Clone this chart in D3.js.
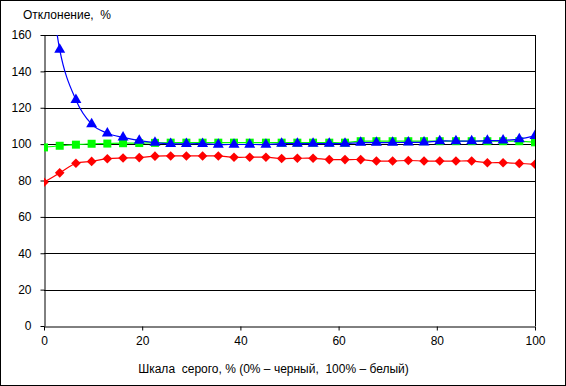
<!DOCTYPE html>
<html>
<head>
<meta charset="utf-8">
<script src="https://cdn.jsdelivr.net/npm/d3@7"></script>
<style>
  html, body { margin: 0; padding: 0; background: #fff; }
  svg { display: block; font-family: "Liberation Sans", Arial, sans-serif; }
  text { white-space: pre; fill: #000; }
</style>
</head>
<body>
<svg id="chart" width="566" height="386"></svg>
<script>
/*
 * Grey-scale deviation chart — three smoothed series with markers,
 * x = grey level (0% black .. 100% white), y = deviation in %.
 */

// grey levels (32 steps)
const GREY = [0, 3.2, 6.5, 9.7, 12.9, 16.1, 19.4, 22.6, 25.8, 29.0, 32.3, 35.5,
  38.7, 41.9, 45.2, 48.4, 51.6, 54.8, 58.1, 61.3, 64.5, 67.7, 71.0, 74.2,
  77.4, 80.6, 83.9, 87.1, 90.3, 93.5, 96.8, 100];

const RED = [79, 84.2, 89.5, 90.5, 92, 92.4, 92.6, 93.4, 93.5, 93.5, 93.5, 93.5,
  92.8, 92.8, 92.8, 92.1, 92.2, 92.2, 91.5, 91.5, 91.5, 90.7, 90.7, 91.0,
  90.7, 90.7, 90.7, 90.7, 89.8, 89.8, 89.4, 88.9];

const GREEN = [98.2, 99.1, 99.7, 100.2, 100.3, 100.5, 100.6, 100.7, 100.8, 100.8, 100.8, 100.8,
  100.8, 100.8, 100.8, 100.8, 100.8, 100.8, 100.8, 100.8, 101.6, 101.6, 101.6, 101.6,
  101.6, 101.6, 101.6, 101.6, 101.6, 101.6, 101.6, 101.0];

const BLUE = [215, 152, 124.3, 111, 106, 103.7, 101.9, 100.8, 100.2, 100.2, 100.2, 99.8,
  99.8, 99.8, 99.8, 100.3, 100.3, 100.3, 100.3, 100.3, 100.8, 100.8, 100.8, 101.0,
  101.0, 101.7, 101.7, 101.7, 101.9, 102.1, 102.8, 104.5];

const X_TICKS = [0, 20, 40, 60, 80, 100];
const Y_TICKS = [0, 20, 40, 60, 80, 100, 120, 140, 160];

const Y_TITLE = 'Отклонение,  %';
const X_TITLE = 'Шкала  серого, % (0% – черный,  100% – белый)';

const SERIES = [
  { values: RED,   color: '#ff0000', symbol: 'diamond' },
  { values: GREEN, color: '#00ff00', symbol: 'square' },
  { values: BLUE,  color: '#0000ff', symbol: 'triangle' },
];

const W = 566, H = 386;
const plot = { left: 44, right: 535, top: 35, bottom: 326 };

const svg = d3.select('#chart');

const x = d3.scaleLinear().domain([0, 100]).range([plot.left, plot.right]);
const y = d3.scaleLinear().domain([0, 160]).range([plot.bottom, plot.top]);

// outer frame
svg.append('rect')
  .attr('x', 0.5).attr('y', 0.5)
  .attr('width', W - 1).attr('height', H - 1)
  .attr('fill', '#fff').attr('stroke', '#000');

svg.append('clipPath').attr('id', 'plot-clip')
  .append('rect')
  .attr('x', plot.left).attr('y', plot.top)
  .attr('width', plot.right - plot.left).attr('height', plot.bottom - plot.top);

// horizontal gridlines
svg.append('g')
  .selectAll('line')
  .data(Y_TICKS.filter((d) => d > 0))
  .join('line')
  .attr('x1', plot.left).attr('x2', plot.right)
  .attr('y1', (d) => Math.round(y(d)) + 0.5)
  .attr('y2', (d) => Math.round(y(d)) + 0.5)
  .attr('stroke', '#000');

// right border of plot area
svg.append('line')
  .attr('x1', plot.right + 0.5).attr('x2', plot.right + 0.5)
  .attr('y1', plot.top).attr('y2', plot.bottom)
  .attr('stroke', '#000');

// axes
const yAxis = svg.append('g')
  .attr('transform', `translate(${plot.left + 0.5},0)`)
  .call(d3.axisLeft(y).tickValues(Y_TICKS).tickSize(4).tickPadding(9).tickSizeOuter(0));
const xAxis = svg.append('g')
  .attr('transform', `translate(0,${plot.bottom + 0.5})`)
  .call(d3.axisBottom(x).tickValues(X_TICKS).tickSize(4).tickPadding(6).tickSizeOuter(0));

for (const ax of [xAxis, yAxis]) {
  ax.select('.domain').attr('stroke', '#000');
  ax.selectAll('.tick line').attr('stroke', '#000');
  ax.selectAll('.tick text')
    .attr('font-family', '"Liberation Sans", Arial, sans-serif')
    .attr('font-size', 12)
    .attr('fill', '#000');
}

// series
const symbolTypes = {
  triangle: d3.symbol().type(d3.symbolTriangle).size(52),
  square:   d3.symbol().type(d3.symbolSquare).size(64),
  diamond:  d3.symbol().type(d3.symbolSquare).size(46),
};

const lineGen = d3.line()
  .x((d) => x(d[0]))
  .y((d) => y(d[1]))
  .curve(d3.curveCardinal.tension(0));

const seriesLayer = svg.append('g').attr('clip-path', 'url(#plot-clip)');

for (const s of SERIES) {
  const pts = GREY.map((g, i) => [g, s.values[i]]);
  const g = seriesLayer.append('g');

  g.append('path').datum(pts)
    .attr('d', lineGen)
    .attr('fill', 'none')
    .attr('stroke', s.color)
    .attr('stroke-width', 1.2);

  g.selectAll('path.marker')
    .data(pts)
    .join('path')
    .attr('class', 'marker')
    .attr('d', symbolTypes[s.symbol])
    .attr('transform', (d) => `translate(${x(d[0])},${y(d[1])})` + (s.symbol === 'diamond' ? ' rotate(45)' : ''))
    .attr('fill', s.color);
}

// titles
svg.append('text')
  .attr('x', 23).attr('y', 19)
  .attr('font-size', 12)
  .text(Y_TITLE);

svg.append('text')
  .attr('x', (plot.left + plot.right) / 2 - 16).attr('y', 373)
  .attr('text-anchor', 'middle')
  .attr('font-size', 12)
  .text(X_TITLE);
</script>
</body>
</html>
